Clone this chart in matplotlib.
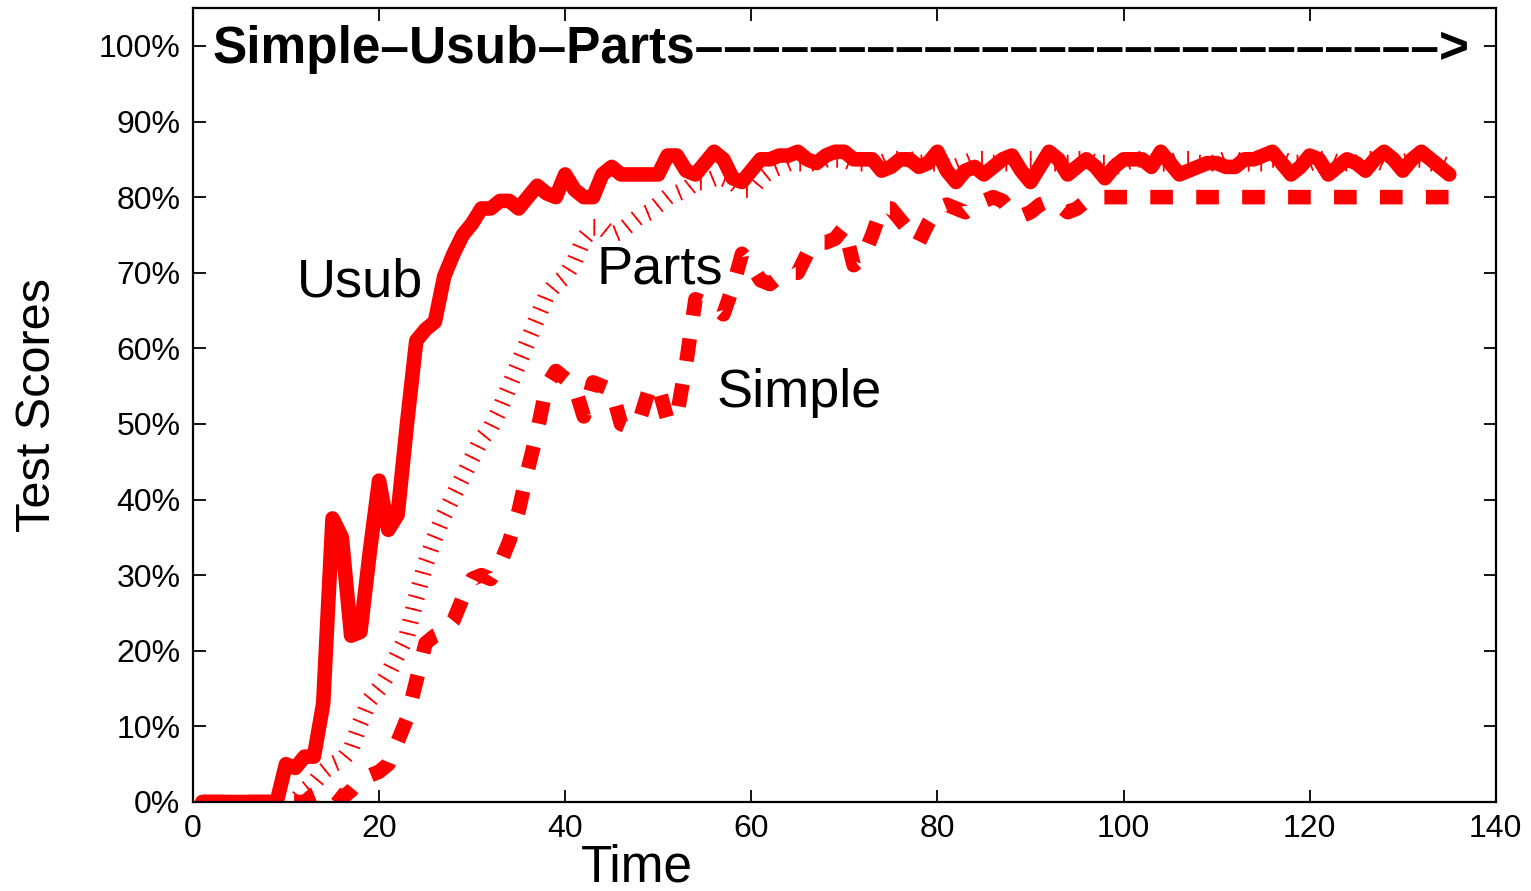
import numpy as np
import matplotlib
matplotlib.use("Agg")
import matplotlib.pyplot as plt
from matplotlib import patheffects

plt.rcParams['font.family'] = ['Liberation Sans', 'DejaVu Sans']

# Usub (solid thick line), t = 1..135
usub_t = list(range(1, 136))
usub = [0, 0, 0, 0, 0, 0, 0, 0, 0, 5,
        4.5, 6, 6, 13, 37.5, 35, 22, 22.5, 33, 42.5,
        36, 38, 50, 61, 62.5, 63.5, 69.5, 72.5, 75, 76.5,
        78.5, 78.5, 79.5, 79.5, 78.5, 80, 81.5, 80.5, 80, 83,
        81, 80, 80, 83, 84, 83, 83, 83, 83, 83,
        85.5, 85.5, 83.5, 83, 84.5, 86, 85, 82.5, 82, 83.5,
        85, 85, 85.5, 85.5, 86, 85, 84.5, 85.5, 86, 86,
        85, 85, 85, 83.5, 84, 85, 85, 84, 84.5, 86,
        83.5, 82, 83.5, 84, 83, 84, 85, 85.5, 83.5, 82,
        84, 86, 85, 83, 84, 85, 84, 82.5, 84, 85,
        85, 85, 84, 86, 84.5, 83, 83.5, 84, 84.5, 84.5,
        84, 84, 85, 85, 85.5, 86, 84.5, 83, 84, 85.5,
        85, 83, 84, 85, 84.5, 83.5, 85, 86, 85, 83.5,
        85, 86, 85, 84, 83]

# Parts (thin hatched line), t = 11..135
parts_t = list(range(11, 136))
parts = [0, 1.5, 2.5, 4, 5, 5.5, 7, 10.5, 13.5, 15,
         17, 19.5, 22, 27, 31.5, 35, 38, 40.5, 43, 45.5,
         48, 49.5, 52, 55, 58, 61, 64, 67, 68.5, 69.5,
         71.5, 74.5, 76, 76, 75, 75.5, 76.5, 77.5, 78, 79,
         80, 80.5, 81, 82, 82, 82.5, 82.5, 82, 81, 81,
         82.5, 83.5, 84, 84.5, 84.5, 84.5, 84.5, 85, 85, 85,
         84.5, 84.5, 84, 84.5, 85, 85, 85, 84.5, 84.5, 84.5,
         84, 84, 84.5, 85, 85, 84.5, 84.5, 84.5, 84.5, 85,
         85, 84.5, 84.5, 84.5, 85, 85, 84.5, 84.5, 84, 84.5,
         85, 85, 84.5, 84.5, 84.5, 85, 85, 84.5, 84.5, 84.5,
         85, 85, 84.5, 84.5, 84.5, 85, 85, 84.5, 84.5, 84.5,
         85, 85, 84.5, 84.5, 84.5, 85, 85, 84.5, 84.5, 84.5,
         85, 85, 84.5, 84.5, 84]

# Simple (thick dotted line), t = 1..135
simple_t = list(range(1, 136))
simple = [0, 0, 0, 0, 0, 0, 0, 0, 0, 0,
          0, 0, 1, 1.5, 1.5, 0.5, 1.5, 3, 3.5, 4,
          5, 8, 11, 16, 21, 22, 22.5, 24, 27, 29.5,
          30, 29.5, 31.5, 34.5, 38.5, 44, 49, 55, 57, 56,
          55, 51, 55.5, 55, 54.5, 50, 49.5, 50.5, 54.5, 55,
          50.5, 51, 58, 66.5, 66, 65.5, 64.5, 68, 72.5, 71,
          69, 68.5, 69.5, 70, 70, 72.5, 74, 74, 74.5, 76,
          71, 72, 75, 78.5, 78.5, 77, 75.5, 74, 76.5, 78.5,
          79, 78.5, 78, 79, 79.5, 80, 79.5, 78, 77.5, 78,
          79, 79.5, 79, 78, 78.5, 79.5, 80, 80, 80, 80,
          80, 80, 80, 80, 80, 80, 80, 80, 80, 80,
          80, 80, 80, 80, 80, 80, 80, 80, 80, 80,
          80, 80, 80, 80, 80, 80, 80, 80, 80, 80,
          80, 80, 80, 80, 80]

x_ticks = [0, 20, 40, 60, 80, 100, 120, 140]
y_ticks = [0, 10, 20, 30, 40, 50, 60, 70, 80, 90, 100]
y_tick_labels = [f"{v}%" for v in y_ticks]

fig = plt.figure(figsize=(15.31, 8.91), dpi=100)
ax = fig.add_axes([0.126, 0.0999, 0.851, 0.891])

ax.plot(simple_t, simple, color='red', linewidth=10.5, linestyle=(0, (1.55, 1.6)),
        dash_capstyle='butt', dash_joinstyle='round')
ax.plot(usub_t, usub, color='red', linewidth=10.5,
        solid_capstyle='round', solid_joinstyle='round')
ticked = [patheffects.TickedStroke(spacing=9, angle=90, length=0.6, linewidth=1.3),
          patheffects.TickedStroke(spacing=9, angle=-90, length=0.6, linewidth=1.3)]
ax.plot(parts_t, parts, color='red', linewidth=1.3, path_effects=ticked)

ax.text(11.2, 66.9, 'Usub', fontsize=39)
ax.text(43.4, 68.6, 'Parts', fontsize=39)
ax.text(56.3, 52.3, 'Simple', fontsize=39)
ax.text(2.1, 97.8, 'Simple\u2013Usub\u2013Parts' + '\u2013' * 26 + '>',
        fontsize=37, fontweight='bold')

ax.set_xlim(0, 140)
ax.set_ylim(0, 105)
ax.set_xticks(x_ticks)
ax.set_yticks(y_ticks)
ax.set_yticklabels(y_tick_labels)
ax.tick_params(direction='in', length=9, width=1.3, labelsize=23, pad=9,
               top=True, right=True)
for s in ax.spines.values():
    s.set_linewidth(1.6)

ax.set_xlabel('Time', fontsize=37, va='baseline')
ax.xaxis.set_label_coords(0.341, -0.1)
ax.set_ylabel('Test Scores', fontsize=35, va='center')
ax.yaxis.set_label_coords(-0.119, 0.5)

fig.savefig('out.png', dpi=100)
